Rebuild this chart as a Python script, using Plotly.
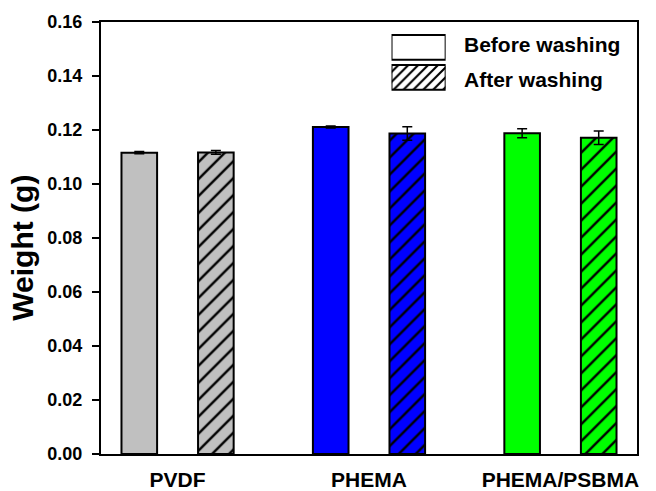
import plotly.graph_objects as go

categories = ["PVDF", "PHEMA", "PHEMA/PSBMA"]
before = [0.1116, 0.1211, 0.1188]
before_err = [0.0004, 0.0004, 0.0017]
after = [0.1117, 0.1187, 0.1171]
after_err = [0.0007, 0.0025, 0.0025]
bar_colors = ["#c0c0c0", "#0000ff", "#00ff00"]
legend_labels = ["Before washing", "After washing"]
y_ticks = [0, 0.02, 0.04, 0.06, 0.08, 0.10, 0.12, 0.14, 0.16]

FONT = "Liberation Sans, Arial, sans-serif"

fig = go.Figure()

for cat, b, be, a, ae, col in zip(categories, before, before_err, after, after_err, bar_colors):
    fig.add_trace(go.Bar(
        x=[cat], y=[b], name=legend_labels[0], offsetgroup="before",
        marker=dict(color=col, line=dict(color="black", width=2)),
        error_y=dict(type="data", array=[be], color="black", thickness=1.5, width=5),
        showlegend=False,
    ))
    fig.add_trace(go.Bar(
        x=[cat], y=[a], name=legend_labels[1], offsetgroup="after",
        marker=dict(color=col, line=dict(color="black", width=2),
                    pattern=dict(shape="/", fgcolor="black", bgcolor=col,
                                 fgopacity=1, fillmode="replace", size=12, solidity=0.2)),
        error_y=dict(type="data", array=[ae], color="black", thickness=1.5, width=5),
        showlegend=False,
    ))

# legend boxes drawn in a small inset axis
fig.add_trace(go.Bar(
    y=legend_labels[::-1], x=[1, 1], orientation="h", width=0.82,
    marker=dict(color="white", line=dict(color="black", width=2),
                pattern=dict(shape=["/", ""], fgcolor="black", bgcolor="white",
                             fgopacity=1, fillmode="replace", size=7, solidity=0.3)),
    xaxis="x2", yaxis="y2", showlegend=False, cliponaxis=False, hoverinfo="skip",
))

fig.update_layout(
    width=656, height=491,
    margin=dict(l=101, r=19, t=22, b=37, autoexpand=False),
    paper_bgcolor="white", plot_bgcolor="white",
    barmode="group", bargap=0.2, bargroupgap=0.535,
    font=dict(family=FONT, color="black"),
    xaxis=dict(
        range=[-0.4, 2.4], showline=True, linewidth=2, linecolor="black", mirror=True,
        ticks="", showgrid=False, zeroline=False, automargin=False,
        tickfont=dict(size=21, weight="bold"), ticklabelstandoff=6,
    ),
    yaxis=dict(
        range=[0, 0.16], tickvals=y_ticks, tickformat=".2f",
        showline=True, linewidth=2, linecolor="black", mirror=True,
        ticks="outside", ticklen=7, tickwidth=2, tickcolor="black",
        showgrid=False, zeroline=False, automargin=False,
        tickfont=dict(size=18, weight="bold"), ticklabelstandoff=6,
    ),
    xaxis2=dict(domain=[0.542, 0.643], anchor="y2", range=[0, 1], visible=False,
                fixedrange=True, automargin=False),
    yaxis2=dict(domain=[0.837, 0.976], anchor="x2", visible=False,
                fixedrange=True, automargin=False),
    annotations=[
        dict(text="Weight (g)", textangle=-90, xref="paper", yref="paper",
             x=-0.146, y=0.477, xanchor="center", yanchor="middle", showarrow=False,
             font=dict(size=30, weight="bold", family=FONT)),
        dict(text=legend_labels[0], xref="paper", yref="paper", x=0.673, y=0.947,
             xanchor="left", yanchor="middle", showarrow=False,
             font=dict(size=21, weight="bold", family=FONT)),
        dict(text=legend_labels[1], xref="paper", yref="paper", x=0.673, y=0.866,
             xanchor="left", yanchor="middle", showarrow=False,
             font=dict(size=21, weight="bold", family=FONT)),
    ],
)

fig.write_html(
    "out.html",
    config={"displayModeBar": False},
    post_script="document.body.style.margin='0';document.body.style.overflow='hidden';",
)
